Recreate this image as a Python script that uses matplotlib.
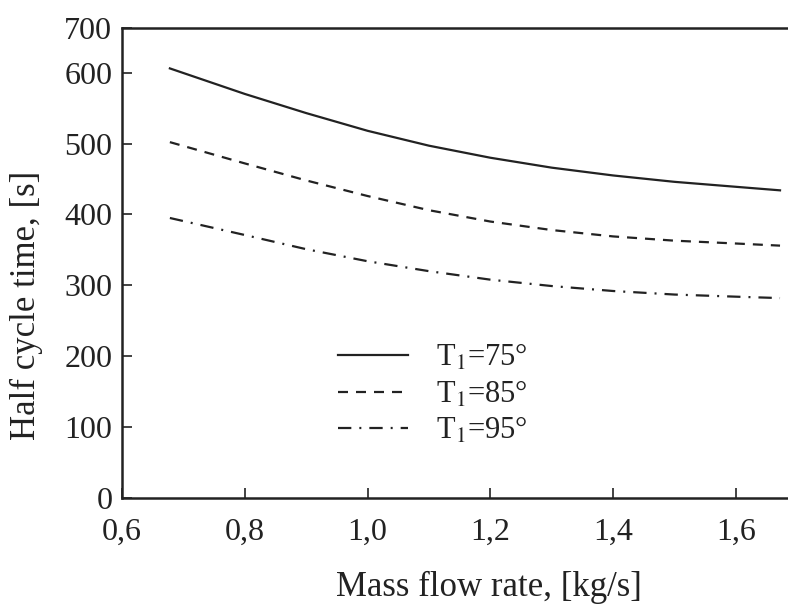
import matplotlib
matplotlib.use("Agg")
import matplotlib.pyplot as plt

# Data
mass_flow = [0.678, 0.8, 0.9, 1.0, 1.1, 1.2, 1.3, 1.4, 1.5, 1.6, 1.672]
t75 = [606, 570, 543, 518, 497, 480, 466, 455, 446, 439, 434]
t85 = [502, 472, 448, 426, 406, 390, 378, 369, 363, 359, 356]
t95 = [395, 371, 351, 334, 320, 308, 299, 292, 287, 284, 282]
series_labels = ["T$_1$=75°", "T$_1$=85°", "T$_1$=95°"]

x_ticks = [0.6, 0.8, 1.0, 1.2, 1.4, 1.6]
x_tick_labels = ["0,6", "0,8", "1,0", "1,2", "1,4", "1,6"]
y_ticks = [0, 100, 200, 300, 400, 500, 600, 663]
y_tick_labels = ["0", "100", "200", "300", "400", "500", "600", "700"]

plt.rcParams["font.family"] = ["Liberation Serif", "DejaVu Serif"]
plt.rcParams["mathtext.fontset"] = "stix"

fig = plt.figure(figsize=(7.88, 6.09), dpi=100)
ax = fig.add_axes([122 / 788, 1 - 498 / 609, 1 - 122 / 788, (498 - 28) / 609])

lw = 1.6
ink = "#222222"
ax.plot(mass_flow, t75, color=ink, lw=lw, ls="-", label=series_labels[0])
ax.plot(mass_flow, t85, color=ink, lw=lw, ls=(0, (4.5, 3.6)), label=series_labels[1])
ax.plot(mass_flow, t95, color=ink, lw=lw, ls=(0, (6, 3.6, 0.9, 3.6)), label=series_labels[2])

ax.set_xlim(0.6, 1.685)
ax.set_ylim(0, 663)
ax.set_xticks(x_ticks)
ax.set_xticklabels(x_tick_labels)
ax.set_yticks(y_ticks)
ax.set_yticklabels(y_tick_labels)

ax.tick_params(direction="in", length=7, width=1.2, labelsize=23, colors=ink)
ax.tick_params(axis="x", pad=14)
ax.tick_params(axis="y", pad=7)
for side in ["left", "bottom", "top"]:
    ax.spines[side].set_linewidth(1.8)
    ax.spines[side].set_color(ink)
ax.spines["right"].set_visible(False)

ax.set_xlabel("Mass flow rate, [kg/s]", fontsize=25, color=ink)
ax.set_ylabel("Half cycle time, [s]", fontsize=25, color=ink)
ax.xaxis.set_label_coords(0.551, -0.155)
ax.yaxis.set_label_coords(-0.118, 0.41)

leg = ax.legend(loc="upper left", bbox_to_anchor=(0.324, 0.33), frameon=False,
                fontsize=22, handlelength=2.3, handletextpad=0.9, labelspacing=0.2,
                borderaxespad=0.0, borderpad=0.0)
for t in leg.get_texts():
    t.set_color(ink)

fig.savefig("out.png", dpi=100)
